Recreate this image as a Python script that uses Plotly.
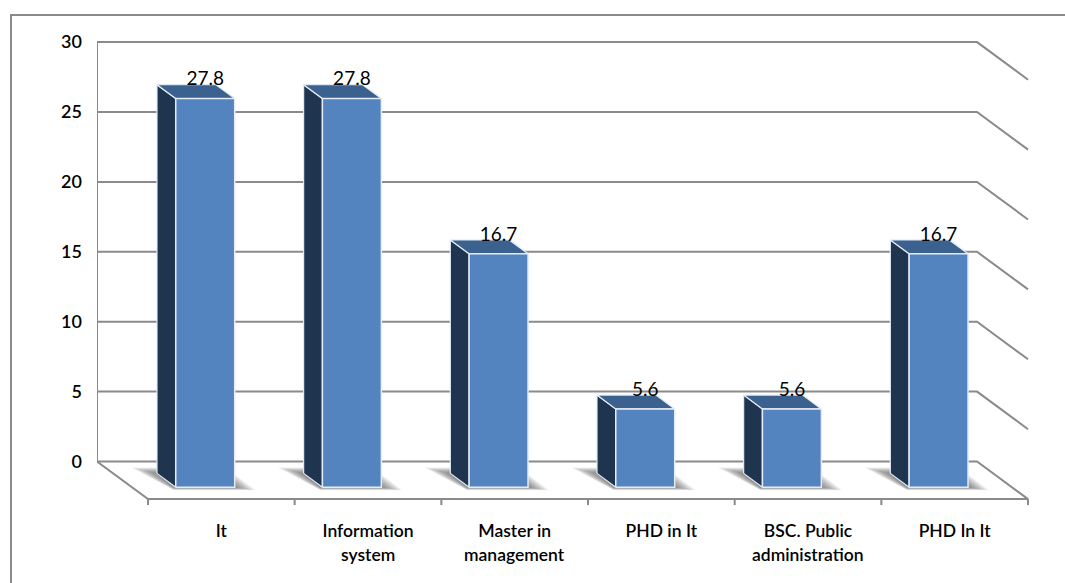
import plotly.graph_objects as go

# Chart data
categories_line1 = ["It", "Information", "Master in", "PHD in It", "BSC. Public", "PHD In It"]
categories_line2 = ["", "system", "management", "", "administration", ""]
values = [27.8, 27.8, 16.7, 5.6, 5.6, 16.7]
y_ticks = [0, 5, 10, 15, 20, 25, 30]

# Canvas and scale of the oblique projection
WIDTH, HEIGHT = 1065, 583
PLOT_L, PLOT_R, PLOT_T, PLOT_B = 97, 1030, 20, 510
PX_PER_CAT = 146.67
PX_PER_VAL = 13.98
ZERO_Y = 461.5
DEPTH_DX, DEPTH_DY = 51, 37.6
N_CATS = len(categories_line1)

BAR_HALF = 0.201
F_BACK, F_FRONT = 0.316, 0.684
AXIS_MAX = 30

LINE_COLOR = "#8a8a8a"
FRONT_COLOR = "#5384c0"
TOP_COLOR = "#3b618f"
SIDE_COLOR = "#1f344f"
EDGE_COLOR = "#e4ecf6"
FONT = "Lato"


def project(u, v, f=0.0):
    """Map category position, value and floor depth (0 back, 1 front) onto the axes."""
    return u + f * DEPTH_DX / PX_PER_CAT, v - f * DEPTH_DY / PX_PER_VAL


def shift(point, dx, dy):
    """Offset an axis position by a distance in pixels (dy positive is downward)."""
    return point[0] + dx / PX_PER_CAT, point[1] - dy / PX_PER_VAL


def polygon(points, fill, edge=None, width=0):
    xs = [p[0] for p in points] + [points[0][0]]
    ys = [p[1] for p in points] + [points[0][1]]
    return go.Scatter(
        x=xs, y=ys, mode="lines", fill="toself", fillcolor=fill,
        line=dict(color=edge or "rgba(0,0,0,0)", width=width),
        hoverinfo="skip", showlegend=False,
    )


def line(points, width=2):
    return go.Scatter(
        x=[p[0] if p else None for p in points],
        y=[p[1] if p else None for p in points],
        mode="lines", line=dict(color=LINE_COLOR, width=width),
        hoverinfo="skip", showlegend=False,
    )


fig = go.Figure()

# Back wall, side wall and gridlines
wall = [project(0, 0), project(0, AXIS_MAX), None]
for t in y_ticks:
    wall += [shift(project(0, t), -5, 0), project(N_CATS, t), project(N_CATS, t, 1), None]
fig.add_trace(line(wall))

# Floor outline with the category ticks on its front edge
floor = [project(0, 0), project(0, 0, 1), project(N_CATS, 0, 1), None]
for i in range(N_CATS + 1):
    floor += [project(i, 0, 1), shift(project(i, 0, 1), 0, 6), None]
fig.add_trace(line(floor))

# Soft shadow under each bar, built from nested translucent layers
SHADOW_LAYERS = 16
for k in range(SHADOW_LAYERS, 0, -1):
    t = k / SHADOW_LAYERS
    xs, ys = [], []
    for i in range(N_CATS):
        c = i + 0.5
        back_left = project(c - BAR_HALF, 0, F_BACK)
        front_left = project(c - BAR_HALF, 0, F_FRONT)
        front_right = project(c + BAR_HALF, 0, F_FRONT)
        pts = [
            shift(back_left, 2, -6 * t),
            shift(back_left, -26 * t, -6 * t),
            shift(front_left, -2, 3 * t),
            shift(front_right, 0, 3 * t),
            shift(front_right, 21 * t, 3 * t),
            shift(front_right, 0, -13 * t),
        ]
        pts.append(pts[0])
        xs += [p[0] for p in pts] + [None]
        ys += [p[1] for p in pts] + [None]
    fig.add_trace(go.Scatter(
        x=xs, y=ys, mode="lines", fill="toself",
        fillcolor="rgba(70,70,70,0.055)", line=dict(width=0),
        hoverinfo="skip", showlegend=False,
    ))

# Bars: side, top and front faces
for i, v in enumerate(values):
    c = i + 0.5
    l, r = c - BAR_HALF, c + BAR_HALF
    fig.add_trace(polygon(
        [project(l, 0, F_BACK), project(l, v, F_BACK), project(l, v, F_FRONT), project(l, 0, F_FRONT)],
        SIDE_COLOR, EDGE_COLOR, 1.2,
    ))
    fig.add_trace(polygon(
        [project(l, v, F_BACK), project(r, v, F_BACK), project(r, v, F_FRONT), project(l, v, F_FRONT)],
        TOP_COLOR, EDGE_COLOR, 1.2,
    ))
    fig.add_trace(polygon(
        [project(l, 0, F_FRONT), project(l, v, F_FRONT), project(r, v, F_FRONT), project(r, 0, F_FRONT)],
        FRONT_COLOR, EDGE_COLOR, 1.5,
    ))

# Value labels sit just above the front top edge of each bar
label_pts = [shift(project(i + 0.5, v, F_FRONT), 0, -18) for i, v in enumerate(values)]
fig.add_trace(go.Scatter(
    x=[p[0] for p in label_pts], y=[p[1] for p in label_pts],
    mode="text", text=[f"{v:.1f}" for v in values],
    textposition="middle center",
    textfont=dict(family=FONT, size=19, color="#000000"),
    hoverinfo="skip", showlegend=False,
))

# Second line of the two-line category labels
annotations = [
    dict(
        x=project(i + 0.5, 0, 1)[0], y=0, xref="x", yref="paper",
        text=txt, showarrow=False, xanchor="center", yanchor="middle",
        yshift=-(554 - PLOT_B),
        font=dict(family=FONT, size=17.5, color="#000000", weight=600),
    )
    for i, txt in enumerate(categories_line2) if txt
]

# Outer chart frame
shapes = [dict(
    type="path", xref="paper", yref="paper",
    path="M {x0} {y1} L {x0} {y0} L {x1} {y0}".format(
        x0=(11 - PLOT_L) / (PLOT_R - PLOT_L),
        x1=(WIDTH - PLOT_L) / (PLOT_R - PLOT_L),
        y0=(PLOT_B - 15) / (PLOT_B - PLOT_T),
        y1=(PLOT_B - HEIGHT) / (PLOT_B - PLOT_T),
    ),
    line=dict(color=LINE_COLOR, width=2),
)]

fig.update_layout(
    width=WIDTH, height=HEIGHT,
    margin=dict(l=PLOT_L, r=WIDTH - PLOT_R, t=PLOT_T, b=HEIGHT - PLOT_B, autoexpand=False),
    paper_bgcolor="white", plot_bgcolor="white",
    showlegend=False, hovermode=False,
    annotations=annotations, shapes=shapes,
    xaxis=dict(
        range=[0, (PLOT_R - PLOT_L) / PX_PER_CAT],
        tickmode="array",
        tickvals=[project(i + 0.5, 0, 1)[0] for i in range(N_CATS)],
        ticktext=categories_line1,
        ticks="", showgrid=False, zeroline=False, showline=False,
        ticklabelstandoff=8,
        tickfont=dict(family=FONT, size=17.5, color="#000000", weight=600),
    ),
    yaxis=dict(
        range=[(ZERO_Y - PLOT_B) / PX_PER_VAL, (ZERO_Y - PLOT_T) / PX_PER_VAL],
        tickmode="array", tickvals=y_ticks, ticktext=[str(t) for t in y_ticks],
        ticks="", showgrid=False, zeroline=False, showline=False,
        ticklabelstandoff=14,
        tickfont=dict(family=FONT, size=18, color="#000000", weight=600),
    ),
)

fig.write_html("out.html", config=dict(displayModeBar=False))
